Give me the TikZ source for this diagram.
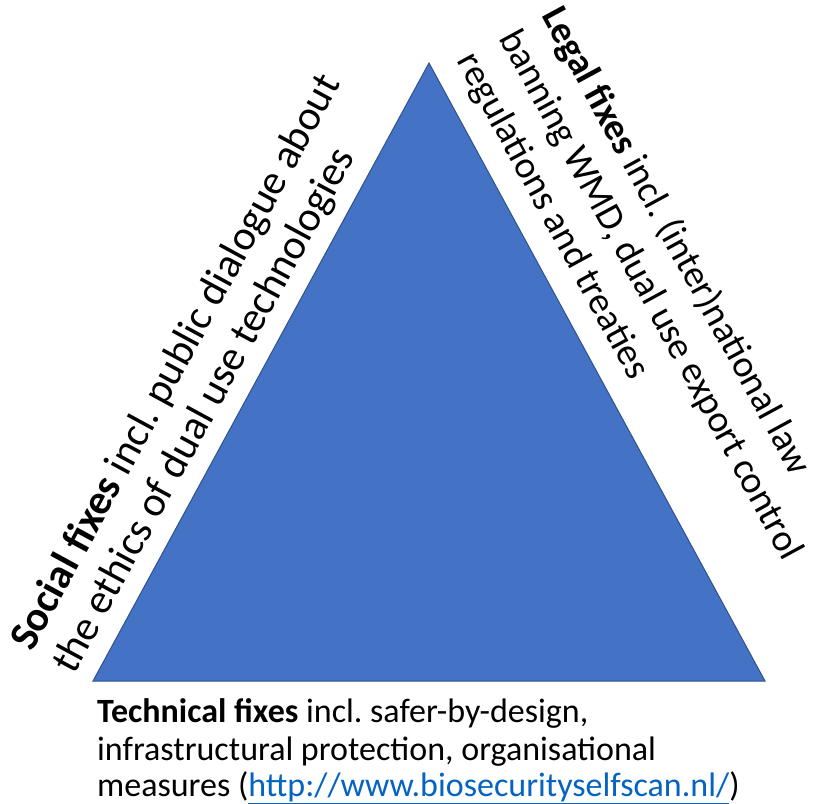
\documentclass[tikz,border=0pt]{standalone}
\usepackage{fontspec}
\setmainfont{Carlito}
\frenchspacing
\definecolor{triblue}{HTML}{4472C4}
\definecolor{triedge}{HTML}{2F528F}
\definecolor{linkblue}{HTML}{0563C1}
\begin{document}
\begin{tikzpicture}[x=1pt,y=-1pt,
  soclbl/.style={inner sep=0pt, anchor=base west, font=\fontsize{42}{48}\selectfont},
  leglbl/.style={inner sep=0pt, anchor=base west, font=\fontsize{38}{48}\selectfont},
  btm/.style={inner sep=0pt, anchor=base west, font=\fontsize{34}{38}\selectfont}]
\useasboundingbox (0,0) rectangle (815,804);
\fill[white] (0,0) rectangle (815,804);
\coordinate (apex) at (429,63);
\coordinate (right) at (765,681);
\coordinate (left) at (93,681);
\path[fill=triblue, draw=triedge, line width=1pt] (apex) -- (right) -- (left) -- cycle;
% social
\node[soclbl, rotate=61.5] (soc1) at (32,653) {\textbf{Social fixes} incl. public dialogue about};
\node[soclbl, rotate=61.5] (soc2) at (74,676) {the ethics of dual use technologies};
% legal
\node[leglbl, rotate=-61.5] (leg1) at (541,15) {\textbf{Legal fixes} incl. (inter)national law};
\node[leglbl, rotate=-61.5] (leg2) at (498.8,37.9) {banning WMD, dual use export control};
\node[leglbl, rotate=-61.5] (leg3) at (456.6,60.8) {regulations and treaties};
% technical
\node[btm] (tec1) at (97,722) {\textbf{Technical fixes} incl. safer-by-design,};
\node[btm] (tec2) at (97,760) {infrastructural protection, organisational};
\node[btm] (tec3) at (97,796) {measures (\textcolor{linkblue}{\underline{http://www.biosecurityselfscan.nl/}})};
\end{tikzpicture}
\end{document}
